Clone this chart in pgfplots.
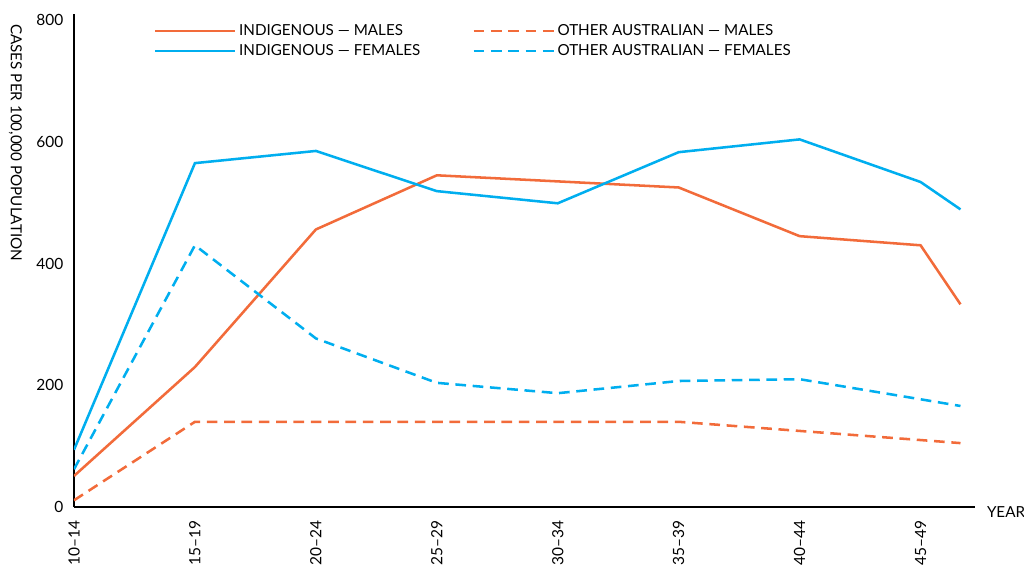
\documentclass[border=0pt]{standalone}
\usepackage{pgfplots}
\pgfplotsset{compat=1.18}
\usepackage{fontspec}
\setmainfont{Lato}
\definecolor{cOr}{HTML}{F26B3A}
\definecolor{cBl}{HTML}{00AEEF}
\begin{document}
\fontsize{11.4}{13.5}\selectfont
\begin{tikzpicture}
\path[use as bounding box] (-55.5pt,-43.5pt) rectangle (712.5pt,380.25pt);
\begin{axis}[
  scale only axis,
  width=675.75pt, height=369.75pt,
  axis lines=left,
  axis line style={-, line width=0.8pt},
  xmin=0, xmax=7.45, ymin=0, ymax=810,
  xtick={0,...,7},
  xticklabels={10–14,15–19,20–24,25–29,30–34,35–39,40–44,45–49},
  x tick label style={rotate=90, anchor=east, yshift=0pt},
  ytick={0,200,400,600,800},
  major tick length=0pt,
  tick label style={font=\fontsize{11.6}{14}\selectfont},
  /pgf/number format/assume math mode=true,
  /pgf/number format/1000 sep={},
  xticklabel shift=6pt,
  yticklabel shift=4pt,
  xlabel={YEAR},
  xlabel style={at={(axis description cs:1,0)}, anchor=west, xshift=5pt, yshift=-4pt, font=\fontsize{11.4}{13.5}\selectfont},
  ylabel={CASES PER 100,000 POPULATION},
  ylabel style={at={(axis description cs:-0.052,0.99)}, rotate=180, anchor=north west, font=\fontsize{11.4}{13.5}\selectfont},
  legend columns=2,
  legend style={draw=none, fill=none, at={(axis description cs:0.084,0.99)}, anchor=north west,
    font=\fontsize{11.4}{13.5}\selectfont, column sep=0pt, row sep=1pt,
    /tikz/every even column/.append style={column sep=37pt}},
  legend cell align=left,
  legend image code/.code={\draw[#1] plot coordinates {(0pt,0pt) (60pt,0pt)};},
  every axis plot/.append style={line width=1.9pt},
]
\addplot[cOr] coordinates {(0,51) (1,230) (2,456) (3,545) (4,535) (5,525) (6,445) (7,430) (7.33,333)};
\addlegendentry{INDIGENOUS — MALES}
\addplot[cOr, dash pattern=on 8pt off 5pt] coordinates {(0,11) (1,140) (2,140) (3,140) (4,140) (5,140) (6,125) (7,110) (7.33,105)};
\addlegendentry{OTHER AUSTRALIAN — MALES}
\addplot[cBl] coordinates {(0,94) (1,565) (2,585) (3,519) (4,499) (5,583) (6,604) (7,534) (7.33,489)};
\addlegendentry{INDIGENOUS — FEMALES}
\addplot[cBl, dash pattern=on 8pt off 5pt] coordinates {(0,62) (1,430) (2,277) (3,204) (4,187) (5,207) (6,210) (7,177) (7.33,166)};
\addlegendentry{OTHER AUSTRALIAN — FEMALES}
\end{axis}
\end{tikzpicture}
\end{document}
